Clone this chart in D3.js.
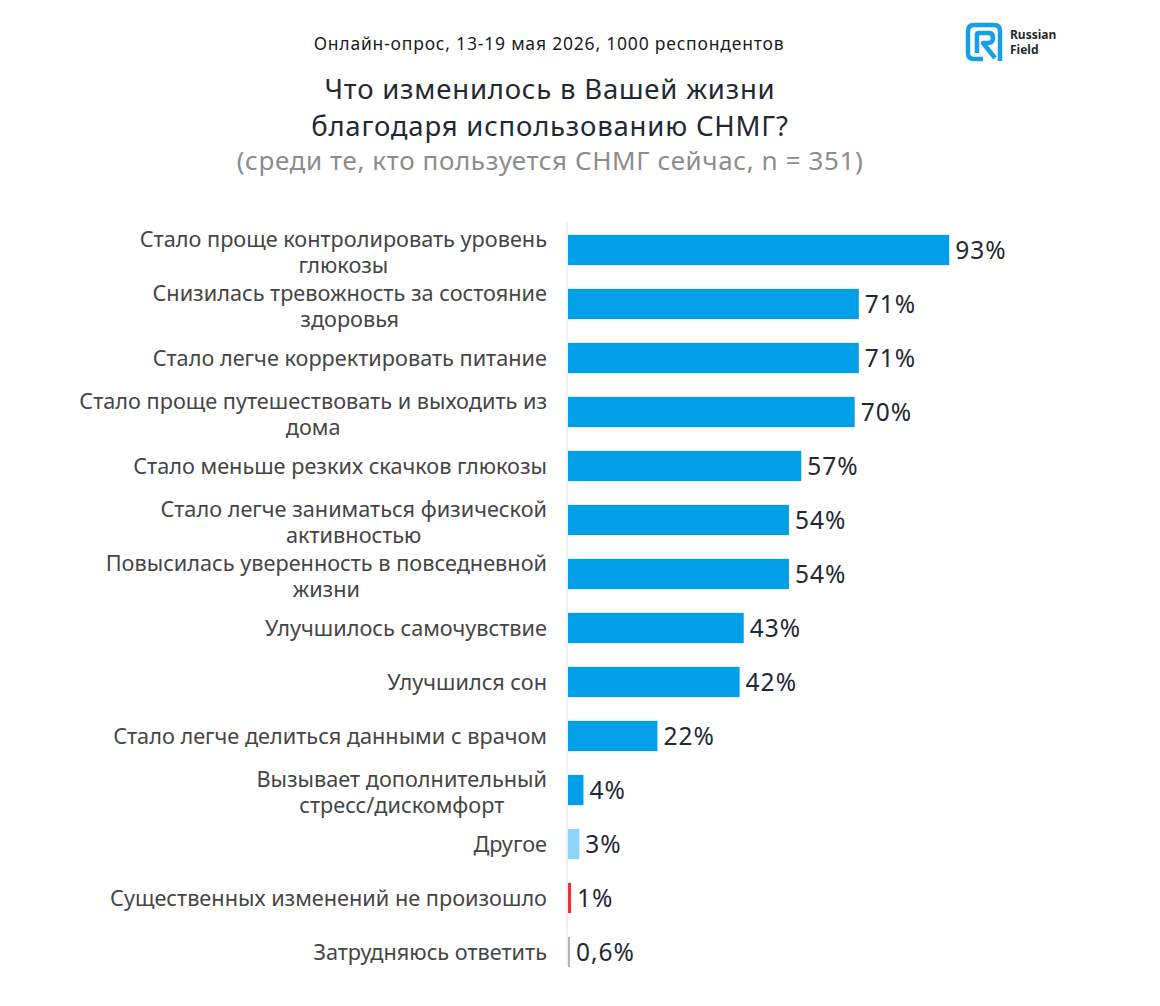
<!DOCTYPE html>
<html>
<head>
<meta charset="utf-8">
<script src="https://cdn.jsdelivr.net/npm/d3@7"></script>
<style>
  html, body { margin: 0; padding: 0; background: #fff; }
  svg { display: block; }
</style>
</head>
<body>
<div id="chart"></div>
<script>
const categories = [
    ['Стало проще контролировать уровень', 'глюкозы'],
    ['Снизилась тревожность за состояние', 'здоровья'],
    ['Стало легче корректировать питание'],
    ['Стало проще путешествовать и выходить из', 'дома'],
    ['Стало меньше резких скачков глюкозы'],
    ['Стало легче заниматься физической', 'активностью'],
    ['Повысилась уверенность в повседневной', 'жизни'],
    ['Улучшилось самочувствие'],
    ['Улучшился сон'],
    ['Стало легче делиться данными с врачом'],
    ['Вызывает дополнительный', 'стресс/дискомфорт'],
    ['Другое'],
    ['Существенных изменений не произошло'],
    ['Затрудняюсь ответить']
];
const values = [93, 71, 71, 70, 57, 54, 54, 43, 42, 22, 4, 3, 1, 0.6];
const valueLabels = ['93%', '71%', '71%', '70%', '57%', '54%', '54%', '43%', '42%', '22%', '4%', '3%', '1%', '0,6%'];
const barColors = ['#019fe8', '#019fe8', '#019fe8', '#019fe8', '#019fe8', '#019fe8', '#019fe8',
    '#019fe8', '#019fe8', '#019fe8', '#019fe8', '#8ed6f7', '#ee3338', '#b5b5b5'];

const W = 1160, H = 1006;
const margin = { top: 223, left: 567 };
const rowStep = 54;
const innerH = rowStep * categories.length;
const FONT = '"Noto Sans", sans-serif';

const svg = d3.select('#chart').append('svg')
    .attr('width', W)
    .attr('height', H);

// header
const header = svg.append('g').attr('font-family', FONT).attr('text-anchor', 'middle');
header.append('text')
    .attr('x', 549).attr('y', 50)
    .attr('font-size', 17.5)
    .attr('letter-spacing', 0.8)
    .attr('fill', '#1b1b1b')
    .text('Онлайн-опрос, 13-19 мая 2026, 1000 респондентов');
header.append('text')
    .attr('x', 550).attr('y', 99)
    .attr('font-size', 27.5)
    .attr('letter-spacing', 0.8)
    .attr('fill', '#1f2933')
    .text('Что изменилось в Вашей жизни');
header.append('text')
    .attr('x', 550).attr('y', 136)
    .attr('font-size', 27.5)
    .attr('letter-spacing', 0.8)
    .attr('fill', '#1f2933')
    .text('благодаря использованию СНМГ?');
header.append('text')
    .attr('x', 550).attr('y', 170)
    .attr('font-size', 26)
    .attr('letter-spacing', 0.6)
    .attr('fill', '#8c8c8c')
    .text('(среди те, кто пользуется СНМГ сейчас, n = 351)');

// logo
const logo = svg.append('g').attr('transform', 'translate(966,23)');
logo.append('path')
    .attr('d', 'M17,36 L8,36 Q2,36 2,30 L2,8 Q2,2 8,2 L28,2 Q34,2 34,8 L34,38')
    .attr('fill', 'none')
    .attr('stroke', '#149fe6')
    .attr('stroke-width', 4.5)
    .attr('stroke-linejoin', 'round');
logo.append('path')
    .attr('d', 'M11,30 L11,12 Q11,10 13,10 L23,10 Q27,10 27,15 Q27,20 22,20 L17,20 L29,35')
    .attr('fill', 'none')
    .attr('stroke', '#149fe6')
    .attr('stroke-width', 4.5)
    .attr('stroke-linejoin', 'round');
logo.append('text')
    .attr('x', 44).attr('y', 16)
    .attr('font-family', FONT)
    .attr('font-size', 12).attr('font-weight', 700)
    .attr('fill', '#1f2933')
    .text('Russian');
logo.append('text')
    .attr('x', 44).attr('y', 31)
    .attr('font-family', FONT)
    .attr('font-size', 12).attr('font-weight', 700)
    .attr('fill', '#1f2933')
    .text('Field');

// scales
const x = d3.scaleLinear().domain([0, 100]).range([0, 411]);
const y = d3.scaleBand()
    .domain(d3.range(categories.length))
    .range([0, innerH])
    .paddingInner(0.44)
    .paddingOuter(0.22);

const g = svg.append('g').attr('transform', `translate(${margin.left},${margin.top})`);

g.append('line')
    .attr('x1', 0).attr('x2', 0)
    .attr('y1', -2).attr('y2', innerH - 14)
    .attr('stroke', '#e4e4e4')
    .attr('stroke-width', 1.2);

g.selectAll('rect.bar')
    .data(values)
    .join('rect')
    .attr('class', 'bar')
    .attr('x', 1)
    .attr('y', (d, i) => y(i))
    .attr('width', d => Math.max(x(d) - 1, 2))
    .attr('height', y.bandwidth())
    .attr('fill', (d, i) => barColors[i]);

g.selectAll('text.val')
    .data(values)
    .join('text')
    .attr('class', 'val')
    .attr('x', d => Math.max(x(d), 3) + 6)
    .attr('y', (d, i) => y(i) + y.bandwidth() / 2)
    .attr('dy', '0.36em')
    .attr('font-family', FONT)
    .attr('font-size', 24.5)
    .attr('letter-spacing', 1)
    .attr('fill', '#1f2933')
    .text((d, i) => valueLabels[i]);

// category labels: block right-aligned, lines centred inside the block
const labelRight = -20;
const lineGap = 26;
categories.forEach((lines, i) => {
    const cy = y(i) + y.bandwidth() / 2;
    const grp = g.append('g')
        .attr('font-family', FONT)
        .attr('font-size', 21.7)
        .attr('fill', '#454545')
        .attr('text-anchor', 'middle');
    const texts = lines.map((t, k) => grp.append('text')
        .attr('y', cy + (k - (lines.length - 1) / 2) * lineGap + (lines.length > 1 ? 2 : 0))
        .attr('dy', '0.35em')
        .text(t));
    const widest = d3.max(texts, t => t.node().getComputedTextLength());
    texts.forEach(t => t.attr('x', labelRight - widest / 2));
});
</script>
</body>
</html>
